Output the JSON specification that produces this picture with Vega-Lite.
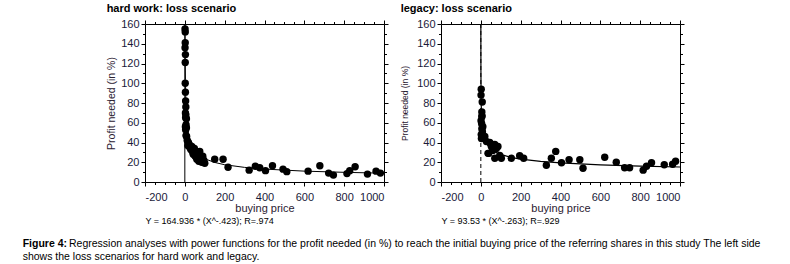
{
  "$schema": "https://vega.github.io/schema/vega-lite/v6.json",
  "padding": {"left": 22, "top": 3, "right": 5, "bottom": 2},
  "background": "white",
  "config": {
    "font": "Liberation Sans",
    "view": {"stroke": null},
    "axis": {"grid": false, "domainColor": "black", "tickColor": "black", "labelColor": "#1a1a3a", "titleColor": "#2a2030", "labelFontSize": 11, "titleFontWeight": "normal", "labelFont": "Liberation Sans", "titleFont": "Liberation Sans", "labelExpr": "'' + datum.value"}
  },
  "title": {
    "text": "Regression analyses with power functions for the profit needed (in %) to reach the initial buying price of the referring shares in this study The left side",
    "orient": "bottom", "anchor": "start", "frame": "group",
    "font": "Liberation Sans", "fontSize": 10.5, "fontWeight": "normal", "color": "black",
    "offset": 0, "dx": -76, "dy": -23
  },
  "datasets": {
    "pts": [
      {"panel":"hw","x":1,"y":155},{"panel":"hw","x":2,"y":152},{"panel":"hw","x":2,"y":141},{"panel":"hw","x":1,"y":136},{"panel":"hw","x":3,"y":129},{"panel":"hw","x":2,"y":121},{"panel":"hw","x":2,"y":100},{"panel":"hw","x":3,"y":91},{"panel":"hw","x":4,"y":82},{"panel":"hw","x":5,"y":76},{"panel":"hw","x":3,"y":70},{"panel":"hw","x":5,"y":68},{"panel":"hw","x":4,"y":65},{"panel":"hw","x":8,"y":64},{"panel":"hw","x":6,"y":58},{"panel":"hw","x":3,"y":56},{"panel":"hw","x":8,"y":55},{"panel":"hw","x":4,"y":53},{"panel":"hw","x":6,"y":47},{"panel":"hw","x":9,"y":46},
      {"panel":"hw","x":12,"y":42},{"panel":"hw","x":18,"y":40},{"panel":"hw","x":15,"y":37},{"panel":"hw","x":22,"y":38},{"panel":"hw","x":25,"y":35},{"panel":"hw","x":30,"y":33},{"panel":"hw","x":35,"y":36},{"panel":"hw","x":38,"y":31},{"panel":"hw","x":42,"y":28},{"panel":"hw","x":48,"y":34},{"panel":"hw","x":52,"y":26},{"panel":"hw","x":58,"y":30},{"panel":"hw","x":60,"y":23},{"panel":"hw","x":66,"y":27},{"panel":"hw","x":70,"y":21},{"panel":"hw","x":75,"y":31},{"panel":"hw","x":80,"y":24},{"panel":"hw","x":85,"y":20},{"panel":"hw","x":90,"y":26},{"panel":"hw","x":95,"y":22},{"panel":"hw","x":100,"y":19},
      {"panel":"hw","x":150,"y":23},{"panel":"hw","x":192,"y":23},{"panel":"hw","x":217,"y":15},{"panel":"hw","x":323,"y":12},{"panel":"hw","x":354,"y":16},{"panel":"hw","x":376,"y":14.5},{"panel":"hw","x":405,"y":11.5},{"panel":"hw","x":440,"y":16.5},{"panel":"hw","x":493,"y":13},{"panel":"hw","x":512,"y":10.5},{"panel":"hw","x":619,"y":11},{"panel":"hw","x":678,"y":16.5},{"panel":"hw","x":722,"y":9},{"panel":"hw","x":746,"y":7},{"panel":"hw","x":814,"y":8.5},{"panel":"hw","x":828,"y":11.5},{"panel":"hw","x":855,"y":15.5},{"panel":"hw","x":917,"y":8},{"panel":"hw","x":960,"y":11},{"panel":"hw","x":982,"y":9},
      {"panel":"lg","x":2,"y":94},{"panel":"lg","x":1,"y":88},{"panel":"lg","x":7,"y":81},{"panel":"lg","x":5,"y":71},{"panel":"lg","x":5,"y":66},{"panel":"lg","x":1,"y":62},{"panel":"lg","x":6,"y":67},{"panel":"lg","x":4,"y":59},{"panel":"lg","x":10,"y":56},{"panel":"lg","x":5,"y":54},{"panel":"lg","x":8,"y":51},{"panel":"lg","x":2,"y":48},{"panel":"lg","x":11,"y":45},{"panel":"lg","x":3,"y":44},{"panel":"lg","x":28,"y":41},{"panel":"lg","x":20,"y":46},{"panel":"lg","x":45,"y":40},{"panel":"lg","x":70,"y":38},{"panel":"lg","x":40,"y":29},{"panel":"lg","x":53,"y":36},{"panel":"lg","x":60,"y":32},{"panel":"lg","x":78,"y":34},{"panel":"lg","x":86,"y":36},{"panel":"lg","x":36,"y":29},{"panel":"lg","x":70,"y":24},{"panel":"lg","x":103,"y":24},{"panel":"lg","x":95,"y":27},
      {"panel":"lg","x":153,"y":24},{"panel":"lg","x":195,"y":26.5},{"panel":"lg","x":215,"y":24},{"panel":"lg","x":329,"y":17},{"panel":"lg","x":354,"y":24},{"panel":"lg","x":376,"y":31},{"panel":"lg","x":405,"y":19.5},{"panel":"lg","x":443,"y":22.5},{"panel":"lg","x":497,"y":22.5},{"panel":"lg","x":513,"y":14},{"panel":"lg","x":622,"y":25},{"panel":"lg","x":680,"y":20},{"panel":"lg","x":722,"y":14.5},{"panel":"lg","x":747,"y":14.5},{"panel":"lg","x":815,"y":12},{"panel":"lg","x":832,"y":16},{"panel":"lg","x":857,"y":19.5},{"panel":"lg","x":921,"y":17.5},{"panel":"lg","x":963,"y":18},{"panel":"lg","x":978,"y":21}
    ],
    "curve": [
      {"panel":"hw","x":0.8,"y":181.3},{"panel":"hw","x":1,"y":164.9},{"panel":"hw","x":1.5,"y":138.9},{"panel":"hw","x":2,"y":123.0},{"panel":"hw","x":3,"y":103.6},{"panel":"hw","x":5,"y":83.5},{"panel":"hw","x":10,"y":62.3},{"panel":"hw","x":20,"y":46.4},{"panel":"hw","x":40,"y":34.7},{"panel":"hw","x":70,"y":27.3},{"panel":"hw","x":100,"y":23.5},{"panel":"hw","x":150,"y":19.8},{"panel":"hw","x":200,"y":17.5},{"panel":"hw","x":300,"y":14.8},{"panel":"hw","x":400,"y":13.1},{"panel":"hw","x":600,"y":11.0},{"panel":"hw","x":800,"y":9.8},{"panel":"hw","x":1000,"y":8.9},
      {"panel":"lg","x":0.08,"y":181.7},{"panel":"lg","x":0.1,"y":171.4},{"panel":"lg","x":0.2,"y":142.8},{"panel":"lg","x":0.5,"y":112.2},{"panel":"lg","x":1,"y":93.5},{"panel":"lg","x":2,"y":77.9},{"panel":"lg","x":5,"y":61.3},{"panel":"lg","x":10,"y":51.0},{"panel":"lg","x":20,"y":42.5},{"panel":"lg","x":40,"y":35.4},{"panel":"lg","x":70,"y":30.6},{"panel":"lg","x":100,"y":27.9},{"panel":"lg","x":150,"y":25.0},{"panel":"lg","x":200,"y":23.2},{"panel":"lg","x":300,"y":20.9},{"panel":"lg","x":400,"y":19.3},{"panel":"lg","x":600,"y":17.4},{"panel":"lg","x":800,"y":16.1},{"panel":"lg","x":1000,"y":15.2}
    ],
    "zero": [{"x":0,"y":0,"y2":160}]
  },
  "vconcat": [
    {
      "title": {
        "text": "Figure 4:",
        "subtitle": "shows the loss scenarios for hard work and legacy.",
        "orient": "bottom", "anchor": "start", "frame": "bounds",
        "font": "Liberation Sans", "subtitleFont": "Liberation Sans",
        "fontSize": 10.5, "subtitleFontSize": 10.5, "fontWeight": "bold", "subtitleFontWeight": "normal",
        "color": "black", "subtitleColor": "black",
        "subtitlePadding": 2, "offset": 14, "dx": -84
      },
      "spacing": 11,
      "hconcat": [
        {
          "width": 239, "height": 158,
          "title": {"text": "hard work: loss scenario", "anchor": "start", "fontSize": 11, "fontWeight": "bold", "offset": 4, "color": "black"},
          "layer": [
            {
              "data": {"name": "pts"}, "transform": [{"filter": "datum.panel == 'hw'"}],
              "mark": {"type": "circle", "size": 55, "color": "black", "opacity": 1},
              "encoding": {
                "x": {"field": "x", "type": "quantitative", "scale": {"domain": [-200, 1000], "nice": false, "zero": false}, "axis": {"orient": "bottom", "values": [-200, 0, 200, 400, 600, 800, 1000], "tickSize": 4, "labelPadding": 5, "title": "buying price", "titleFontSize": 11, "titlePadding": 0}},
                "y": {"field": "y", "type": "quantitative", "scale": {"domain": [0, 160], "nice": false}, "axis": {"orient": "left", "values": [0, 20, 40, 60, 80, 100, 120, 140, 160], "tickSize": 4, "labelPadding": 2, "title": "Profit needed (in %)", "titleFontSize": 10.5, "titlePadding": 4}}
              }
            },
            {
              "data": {"name": "curve"}, "transform": [{"filter": "datum.panel == 'hw'"}],
              "mark": {"type": "line", "color": "black", "strokeWidth": 1, "clip": true},
              "encoding": {
                "x": {"field": "x", "type": "quantitative", "scale": {"domain": [-200, 1000], "nice": false, "zero": false}, "axis": {"orient": "bottom", "values": [-150, -100, -50, 50, 100, 150, 250, 300, 350, 450, 500, 550, 650, 700, 750, 850, 900, 950], "tickSize": 2.5, "labels": false, "domain": false, "title": "Y = 164.936 * (X^-.423); R=.974", "titleAnchor": "start", "titleFontSize": 9, "titlePadding": 31, "titleColor": "black"}},
                "y": {"field": "y", "type": "quantitative", "scale": {"domain": [0, 160], "nice": false}, "axis": {"orient": "left", "values": [10, 30, 50, 70, 90, 110, 130, 150], "tickSize": 2.5, "labels": false, "domain": false, "title": null}}
              }
            },
            {
              "data": {"name": "zero"},
              "mark": {"type": "rule", "color": "black", "strokeWidth": 1},
              "encoding": {
                "x": {"field": "x", "type": "quantitative", "scale": {"domain": [-200, 1000], "nice": false, "zero": false}, "axis": {"orient": "top", "values": [-200, 0, 200, 400, 600, 800, 1000], "tickSize": 4, "labels": false, "title": null}},
                "y": {"field": "y", "type": "quantitative", "scale": {"domain": [0, 160], "nice": false}, "axis": {"orient": "right", "values": [0, 20, 40, 60, 80, 100, 120, 140, 160], "tickSize": 4, "labels": false, "title": null}},
                "y2": {"field": "y2"}
              }
            },
            {
              "data": {"name": "zero"},
              "mark": {"type": "point", "opacity": 0},
              "encoding": {
                "x": {"field": "x", "type": "quantitative", "scale": {"domain": [-200, 1000], "nice": false, "zero": false}, "axis": {"orient": "top", "values": [-150, -100, -50, 50, 100, 150, 250, 300, 350, 450, 500, 550, 650, 700, 750, 850, 900, 950], "tickSize": 2.5, "labels": false, "domain": false, "title": null}},
                "y": {"field": "y", "type": "quantitative", "scale": {"domain": [0, 160], "nice": false}, "axis": {"orient": "right", "values": [10, 30, 50, 70, 90, 110, 130, 150], "tickSize": 2.5, "labels": false, "domain": false, "title": null}}
              }
            }
          ],
          "resolve": {"axis": {"x": "independent", "y": "independent"}}
        },
        {
          "width": 239, "height": 158,
          "title": {"text": "legacy: loss scenario", "anchor": "start", "fontSize": 11, "fontWeight": "bold", "offset": 4, "color": "black"},
          "layer": [
            {
              "data": {"name": "pts"}, "transform": [{"filter": "datum.panel == 'lg'"}],
              "mark": {"type": "circle", "size": 55, "color": "black", "opacity": 1},
              "encoding": {
                "x": {"field": "x", "type": "quantitative", "scale": {"domain": [-200, 1000], "nice": false, "zero": false}, "axis": {"orient": "bottom", "values": [-200, 0, 200, 400, 600, 800, 1000], "tickSize": 4, "labelPadding": 5, "title": "buying price", "titleFontSize": 11, "titlePadding": 0}},
                "y": {"field": "y", "type": "quantitative", "scale": {"domain": [0, 160], "nice": false}, "axis": {"orient": "left", "values": [0, 20, 40, 60, 80, 100, 120, 140, 160], "tickSize": 4, "labelPadding": 2, "title": "Profit needed (in %)", "titleFontSize": 8.5, "titlePadding": 7}}
              }
            },
            {
              "data": {"name": "zero"},
              "mark": {"type": "rule", "color": "black", "strokeWidth": 1, "strokeDash": [4, 3]},
              "encoding": {
                "x": {"field": "x", "type": "quantitative", "scale": {"domain": [-200, 1000], "nice": false, "zero": false}, "axis": {"orient": "bottom", "values": [-150, -100, -50, 50, 100, 150, 250, 300, 350, 450, 500, 550, 650, 700, 750, 850, 900, 950], "tickSize": 2.5, "labels": false, "domain": false, "title": "Y = 93.53 * (X^-.263); R=.929", "titleAnchor": "start", "titleFontSize": 9, "titlePadding": 31, "titleColor": "black"}},
                "y": {"field": "y", "type": "quantitative", "scale": {"domain": [0, 160], "nice": false}, "axis": {"orient": "left", "values": [10, 30, 50, 70, 90, 110, 130, 150], "tickSize": 2.5, "labels": false, "domain": false, "title": null}},
                "y2": {"field": "y2"}
              }
            },
            {
              "data": {"name": "curve"}, "transform": [{"filter": "datum.panel == 'lg'"}],
              "mark": {"type": "line", "color": "black", "strokeWidth": 1.2, "clip": true},
              "encoding": {
                "x": {"field": "x", "type": "quantitative", "scale": {"domain": [-200, 1000], "nice": false, "zero": false}, "axis": {"orient": "top", "values": [-200, 0, 200, 400, 600, 800, 1000], "tickSize": 4, "labels": false, "title": null}},
                "y": {"field": "y", "type": "quantitative", "scale": {"domain": [0, 160], "nice": false}, "axis": {"orient": "right", "values": [0, 20, 40, 60, 80, 100, 120, 140, 160], "tickSize": 4, "labels": false, "title": null}}
              }
            },
            {
              "data": {"name": "zero"},
              "mark": {"type": "point", "opacity": 0},
              "encoding": {
                "x": {"field": "x", "type": "quantitative", "scale": {"domain": [-200, 1000], "nice": false, "zero": false}, "axis": {"orient": "top", "values": [-150, -100, -50, 50, 100, 150, 250, 300, 350, 450, 500, 550, 650, 700, 750, 850, 900, 950], "tickSize": 2.5, "labels": false, "domain": false, "title": null}},
                "y": {"field": "y", "type": "quantitative", "scale": {"domain": [0, 160], "nice": false}, "axis": {"orient": "right", "values": [10, 30, 50, 70, 90, 110, 130, 150], "tickSize": 2.5, "labels": false, "domain": false, "title": null}}
              }
            }
          ],
          "resolve": {"axis": {"x": "independent", "y": "independent"}}
        }
      ]
    }
  ]
}
